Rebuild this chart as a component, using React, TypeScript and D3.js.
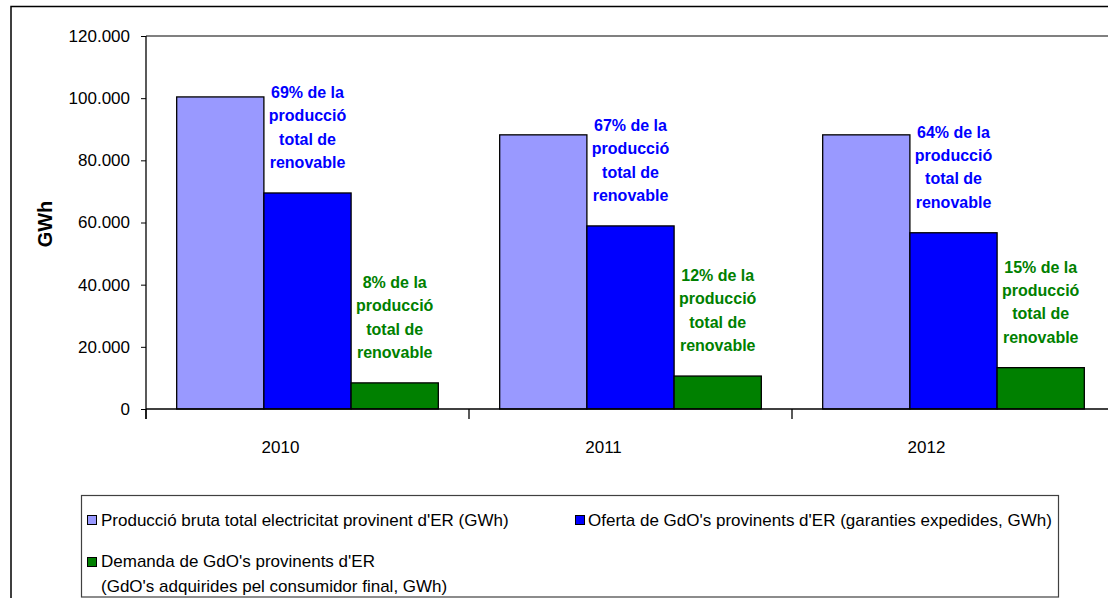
import { useEffect, useRef } from "react";
import * as d3 from "d3";

const WIDTH = 1108;
const HEIGHT = 598;
// plot area, in page pixels (right edge runs past the picture)
const PLOT = { left: 146, top: 36, right: 1115, bottom: 409 };

const categories = ["2010", "2011", "2012"];
const seriesNames = [
  "Producció bruta total electricitat provinent d'ER (GWh)",
  "Oferta de GdO's provinents d'ER (garanties expedides, GWh)",
  "Demanda de GdO's provinents d'ER",
];
const produccio = [100400, 88200, 88200];
const oferta = [69500, 58900, 56700];
const demanda = [8400, 10600, 13300];
const ofertaPct = ["69%", "67%", "64%"];
const demandaPct = ["8%", "12%", "15%"];
const yTicks = [0, 20000, 40000, 60000, 80000, 100000, 120000];

const COLORS = ["#9999ff", "#0000ff", "#008000"];
const FONT = "'Liberation Sans', Arial, sans-serif";

const fmt = d3
  .formatLocale({ decimal: ",", thousands: ".", grouping: [3], currency: ["", ""] })
  .format(",.0f");

type Bar = { cat: string; series: number; value: number; pct?: string };

export default function App() {
  const axesRef = useRef<SVGGElement>(null);

  const xScale = d3.scaleBand().domain(categories).range([PLOT.left, PLOT.right]).padding(0);
  const catW = xScale.bandwidth();
  const inner = d3
    .scaleBand<number>()
    .domain([0, 1, 2])
    .range([catW * 0.095, catW * 0.905])
    .padding(0);
  const yScale = d3.scaleLinear().domain([0, 120000]).range([PLOT.bottom, PLOT.top]);

  const bars: Bar[] = categories.flatMap((c, i) => [
    { cat: c, series: 0, value: produccio[i] },
    { cat: c, series: 1, value: oferta[i], pct: ofertaPct[i] },
    { cat: c, series: 2, value: demanda[i], pct: demandaPct[i] },
  ]);

  useEffect(() => {
    const g = d3.select(axesRef.current);
    g.selectAll("*").remove();

    // plot area top border
    g.append("line")
      .attr("x1", PLOT.left)
      .attr("x2", PLOT.right)
      .attr("y1", PLOT.top)
      .attr("y2", PLOT.top)
      .attr("stroke", "#808080")
      .attr("stroke-width", 2);

    const yAxis = g
      .append("g")
      .attr("transform", `translate(${PLOT.left},0)`)
      .call(d3.axisLeft(yScale).tickValues(yTicks).tickSize(5).tickPadding(11).tickFormat((d) => fmt(d as number)));
    yAxis.select(".domain").remove();
    yAxis.selectAll(".tick line").attr("stroke", "#000");
    yAxis
      .selectAll(".tick text")
      .attr("font-family", FONT)
      .attr("font-size", 17)
      .attr("fill", "#000");

    // axis lines
    g.append("line")
      .attr("x1", PLOT.left)
      .attr("x2", PLOT.left)
      .attr("y1", PLOT.top)
      .attr("y2", PLOT.bottom + 10)
      .attr("stroke", "#000")
      .attr("stroke-width", 1.3);
    g.append("line")
      .attr("x1", PLOT.left)
      .attr("x2", PLOT.right)
      .attr("y1", PLOT.bottom)
      .attr("y2", PLOT.bottom)
      .attr("stroke", "#000")
      .attr("stroke-width", 1.3);

    // category boundary ticks
    const bounds = categories.map((c) => xScale(c)!).concat([PLOT.right]);
    g.selectAll(".xtick")
      .data(bounds)
      .enter()
      .append("line")
      .attr("x1", (d) => d)
      .attr("x2", (d) => d)
      .attr("y1", PLOT.bottom)
      .attr("y2", PLOT.bottom + 10)
      .attr("stroke", "#000")
      .attr("stroke-width", 1.3);

    g.selectAll(".xlabel")
      .data(categories)
      .enter()
      .append("text")
      .attr("x", (d) => xScale(d)! + catW / 2 - 27)
      .attr("y", PLOT.bottom + 44)
      .attr("text-anchor", "middle")
      .attr("font-family", FONT)
      .attr("font-size", 17)
      .text((d) => d);
  }, []);

  const lineH = 23.3;

  return (
    <div style={{ position: "absolute", left: 0, top: 0 }}>
      <svg width={WIDTH} height={HEIGHT} style={{ display: "block", background: "#fff" }}>
        <rect x={11} y={6.5} width={1200} height={700} fill="#fff" stroke="#000" strokeWidth={1.5} />

        {bars.map((b, i) => {
          const x = xScale(b.cat)! + inner(b.series)!;
          const y = yScale(b.value);
          return (
            <rect
              key={i}
              x={x}
              y={y}
              width={inner.bandwidth()}
              height={yScale(0) - y}
              fill={COLORS[b.series]}
              stroke="#000"
              strokeWidth={1.3}
            />
          );
        })}

        {bars
          .filter((b) => b.pct)
          .map((b, i) => {
            const cx = xScale(b.cat)! + inner(b.series)! + inner.bandwidth() / 2;
            const lastBase = yScale(b.value) - 25;
            const lines = [`${b.pct} de la`, "producció", "total de", "renovable"];
            return (
              <text
                key={i}
                textAnchor="middle"
                fontFamily={FONT}
                fontWeight="bold"
                fontSize={16}
                fill={COLORS[b.series]}
              >
                {lines.map((t, j) => (
                  <tspan key={j} x={cx} y={lastBase - (3 - j) * lineH}>
                    {t}
                  </tspan>
                ))}
              </text>
            );
          })}

        <g ref={axesRef} />

        <text
          transform="translate(52,224) rotate(-90)"
          textAnchor="middle"
          fontFamily={FONT}
          fontWeight="bold"
          fontSize={20}
        >
          GWh
        </text>

        {/* legend */}
        <rect x={81.5} y={495.5} width={977} height={101.5} fill="#fff" stroke="#404040" strokeWidth={1.2} />
        <rect x={87.5} y={515.5} width={9} height={9} fill={COLORS[0]} stroke="#000" />
        <text x={101} y={526} fontFamily={FONT} fontSize={17}>
          {seriesNames[0]}
        </text>
        <rect x={575.5} y={515.5} width={9} height={9} fill={COLORS[1]} stroke="#000" />
        <text x={588} y={526} fontFamily={FONT} fontSize={17}>
          {seriesNames[1]}
        </text>
        <rect x={87.5} y={557.5} width={9} height={9} fill={COLORS[2]} stroke="#000" />
        <text x={101} y={567} fontFamily={FONT} fontSize={17}>
          {seriesNames[2]}
        </text>
        <text x={101} y={592} fontFamily={FONT} fontSize={17}>
          (GdO's adquirides pel consumidor final, GWh)
        </text>
      </svg>
    </div>
  );
}
